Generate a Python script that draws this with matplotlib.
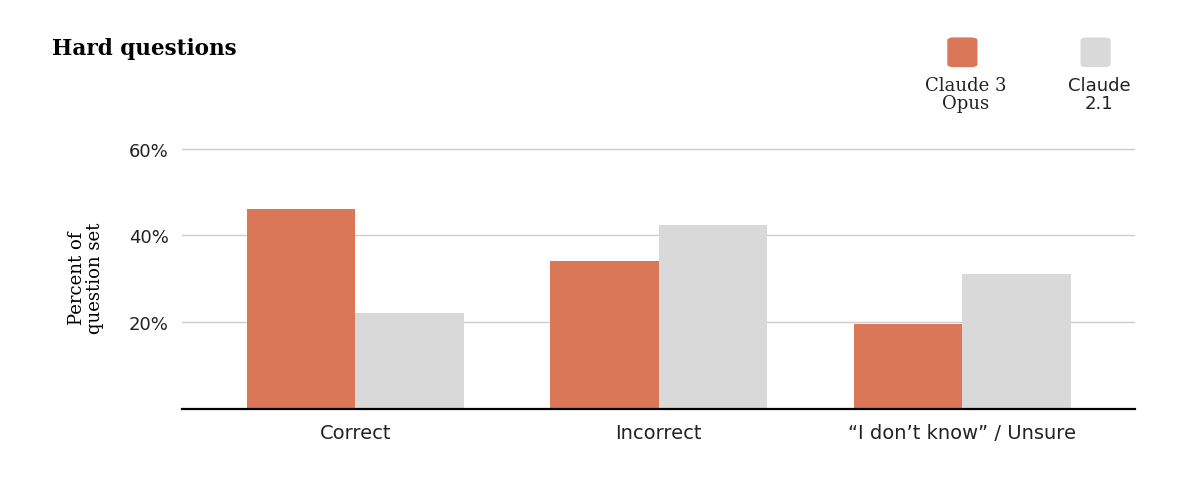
import matplotlib.pyplot as plt
from matplotlib.patches import FancyBboxPatch

categories = ["Correct", "Incorrect", "\u201cI don\u2019t know\u201d / Unsure"]
opus = [46, 34, 19.5]
claude21 = [22.2, 42.5, 31.2]

orange = "#D97757"
grey = "#D9D9D9"

fig = plt.figure(figsize=(12, 4.89), dpi=100)
ax = fig.add_axes([0.152, 0.162, 0.794, 0.536])

x = range(len(categories))
w = 0.357
ax.bar([i - w / 2 for i in x], opus, width=w, color=orange, zorder=3)
ax.bar([i + w / 2 for i in x], claude21, width=w, color=grey, zorder=3)

ax.set_xlim(-0.57, 2.57)
ax.set_ylim(0, 60.5)
ax.set_yticks([20, 40, 60])
ax.set_yticklabels(["20%", "40%", "60%"], fontsize=13, color="#222222")
ax.set_xticks(list(x))
ax.set_xticklabels(categories, fontsize=14, color="#222222")
ax.tick_params(length=0, pad=10)
ax.grid(axis="y", color="#cccccc", linewidth=1, zorder=0)
for s in ["top", "right", "left"]:
    ax.spines[s].set_visible(False)
ax.spines["bottom"].set_linewidth(1.6)
ax.spines["bottom"].set_zorder(4)

ax.set_ylabel("Percent of\nquestion set", family="DejaVu Serif", fontsize=13,
              linespacing=0.95, labelpad=18)

fig.text(0.043, 0.9, "Hard questions", family="DejaVu Serif", fontsize=15.5,
         fontweight="semibold", va="center")

# legend
for cx, col, lab in [(0.802, orange, "Claude 3\nOpus"), (0.913, grey, "Claude\n2.1")]:
    fig.patches.append(FancyBboxPatch((cx - 0.012, 0.862), 0.024, 0.058,
                                      boxstyle="round,pad=0,rounding_size=0.005",
                                      transform=fig.transFigure, color=col))
    fig.text(cx + 0.003, 0.805, lab, ha="center", va="center", fontsize=13,
             family="DejaVu Serif" if col == orange else "DejaVu Sans",
             linespacing=1.0, color="#222222")

fig.savefig("out.png", dpi=100)
